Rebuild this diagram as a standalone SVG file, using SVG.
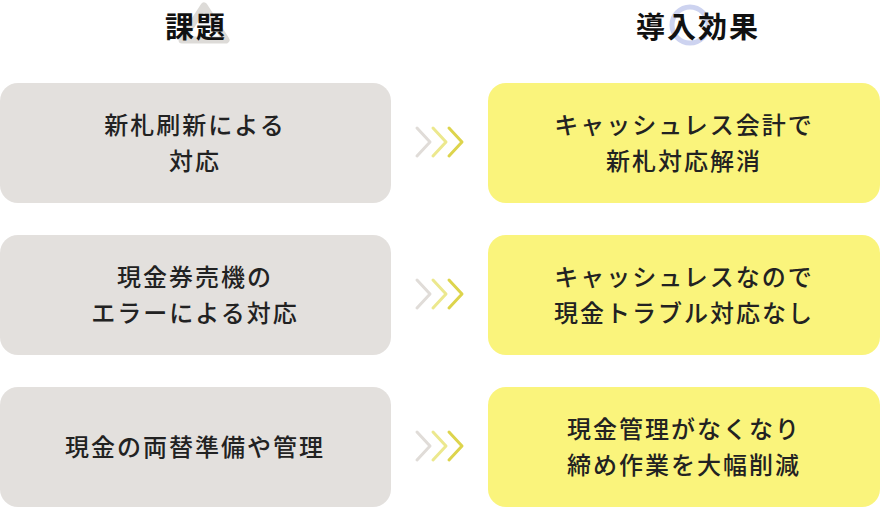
<svg xmlns="http://www.w3.org/2000/svg" width="880" height="507" viewBox="0 0 880 507">
<style>
.t{font-family:"Noto Sans CJK JP","Noto Sans",sans-serif;font-size:24px;font-weight:500;fill:#222;text-anchor:middle;letter-spacing:2px}
.h{font-family:"Noto Sans CJK JP","Noto Sans",sans-serif;font-size:29px;font-weight:700;fill:#111;text-anchor:middle;letter-spacing:2px}
.l{fill:#e3e0dd}
.r{fill:#faf47c}
.c{fill:none;stroke-width:3;stroke-linecap:round;stroke-linejoin:round}
</style>
<defs>
<g id="chev">
<path class="c" stroke="#e0dcd8" d="M417,-14 L430,0 L417,14"/>
<path class="c" stroke="#ece88e" d="M433,-14 L446,0 L433,14"/>
<path class="c" stroke="#ddd44c" d="M449,-14 L462,0 L449,14"/>
</g>
</defs>
<g id="deco">
<path d="M204,6 L226,40 L182,40 Z" fill="none" stroke="#dddbd8" stroke-width="7" stroke-linejoin="round"/>
<circle cx="690" cy="25" r="18" fill="none" stroke="#cdd3f0" stroke-width="5"/>
</g>
<g id="head1"><text class="h" x="196" y="38">課題</text></g>
<g id="head2"><text class="h" x="698" y="38">導入効果</text></g>
<g id="n1"><rect class="l" x="0" y="83" width="391" height="120" rx="18"/><text class="t" x="195" y="134">新札刷新による</text><text class="t" x="195" y="170">対応</text></g>
<g id="n2"><rect class="l" x="0" y="235" width="391" height="120" rx="18"/><text class="t" x="195" y="286">現金券売機の</text><text class="t" x="195" y="322">エラーによる対応</text></g>
<g id="n3"><rect class="l" x="0" y="387" width="391" height="120" rx="18"/><text class="t" x="195" y="456">現金の両替準備や管理</text></g>
<g id="m1"><rect class="r" x="488" y="83" width="392" height="120" rx="18"/><text class="t" x="684" y="134">キャッシュレス会計で</text><text class="t" x="684" y="170">新札対応解消</text></g>
<g id="m2"><rect class="r" x="488" y="235" width="392" height="120" rx="18"/><text class="t" x="684" y="286">キャッシュレスなので</text><text class="t" x="684" y="322">現金トラブル対応なし</text></g>
<g id="m3"><rect class="r" x="488" y="387" width="392" height="120" rx="18"/><text class="t" x="684" y="438">現金管理がなくなり</text><text class="t" x="684" y="474">締め作業を大幅削減</text></g>
<g id="connectors">
<use href="#chev" y="142"/>
<use href="#chev" y="294"/>
<use href="#chev" y="446"/>
</g>
</svg>
